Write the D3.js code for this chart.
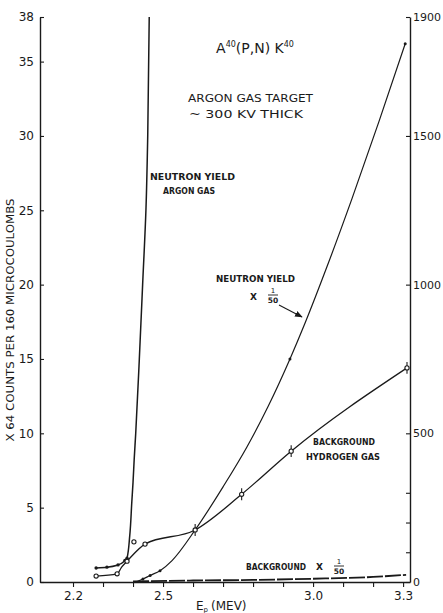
<!DOCTYPE html>
<html>
<head>
<meta charset="utf-8">
<script src="https://cdn.jsdelivr.net/npm/d3@7"></script>
<style>
  body { margin: 0; background: #fff; }
  svg { display: block; }
  text { font-family: "DejaVu Sans", sans-serif; fill: #1a1a1a; }
</style>
</head>
<body>
<div id="chart"></div>
<script>
// proton energy (MeV) vs counts
const argonE = [2.277, 2.313, 2.35, 2.373, 2.38, 2.389, 2.396, 2.40, 2.404, 2.409, 2.421, 2.432, 2.443, 2.449, 2.454];
const argonV = [0.94, 1.0, 1.15, 1.45, 1.6, 3.1, 5.4, 6.7, 8.3, 10, 15, 20, 25, 30, 38];
const argonMarkE = [2.277, 2.313, 2.35, 2.373, 2.38];

const hydE = [2.277, 2.347, 2.362, 2.38, 2.44, 2.607, 2.762, 2.927, 3.313];
const hydV = [0.4, 0.55, 1.0, 1.4, 2.55, 3.5, 5.9, 8.8, 14.4];
const hydExtraE = [2.403];
const hydExtraV = [2.7];
const hydErrE = [2.607, 2.762, 2.927, 3.313];

// right hand scale (x 1/50)
const yieldE = [2.41, 2.433, 2.457, 2.49, 2.53, 2.607, 2.7, 2.78, 2.85, 2.923, 2.973, 3.05, 3.13, 3.22, 3.307];
const yieldV = [0, 10, 22, 38, 72, 175, 320, 455, 590, 750, 870, 1070, 1290, 1550, 1810];
const yieldMarkE = [2.433, 2.457, 2.49, 2.607, 2.923, 3.307];

const bgE = [2.40, 2.6, 2.8, 3.0, 3.2, 3.31];
const bgV = [2, 5, 7, 11, 17, 24];

const xTicks = [2.2, 2.3, 2.4, 2.5, 2.6, 2.7, 2.8, 2.9, 3.0, 3.1, 3.2, 3.3];
const xLabelled = [2.2, 2.5, 3.0, 3.3];
const leftTicks = [0, 5, 10, 15, 20, 25, 30, 35, 38];
const rightTicks = [0, 500, 1000, 1500, 1900];
const rightMinor = [100, 200, 300];

const W = 443, H = 613;
const svg = d3.select('#chart').append('svg')
    .attr('width', W)
    .attr('height', H);

const x = d3.scaleLinear().domain([2.09, 3.323]).range([40, 410]);
const yL = d3.scaleLinear().domain([0, 38]).range([582, 17]);
const yR = d3.scaleLinear().domain([0, 1900]).range([582, 17]);

const ink = '#1a1a1a';

// axes
svg.append('g')
    .attr('transform', 'translate(0,' + yL(0) + ')')
    .call(d3.axisBottom(x).tickValues(xTicks).tickSizeInner(5).tickSizeOuter(0).tickPadding(4)
        .tickFormat(d => xLabelled.some(v => Math.abs(v - d) < 1e-9) ? d.toFixed(1) : ''));

svg.append('g')
    .attr('transform', 'translate(' + x.range()[0] + ',0)')
    .call(d3.axisLeft(yL).tickValues(leftTicks).tickSizeInner(-4).tickSizeOuter(0).tickPadding(6));

svg.append('g')
    .attr('class', 'raxis')
    .attr('transform', 'translate(' + x.range()[1] + ',0)')
    .call(d3.axisRight(yR).tickValues(rightTicks).tickSizeInner(-4).tickSizeOuter(0).tickPadding(3)
        .tickFormat(d3.format('d')));

svg.append('g')
    .attr('transform', 'translate(' + x.range()[1] + ',0)')
    .call(d3.axisRight(yR).tickValues(rightMinor).tickSizeInner(-4).tickSizeOuter(0).tickFormat(''))
    .select('.domain').remove();

svg.selectAll('.domain').attr('stroke', ink).attr('stroke-width', 1.4);
svg.selectAll('.tick line').attr('stroke', ink).attr('stroke-width', 1.1);
svg.selectAll('.tick text')
    .style('font-family', '"DejaVu Sans", sans-serif')
    .style('font-size', '12px')
    .attr('fill', ink);
svg.selectAll('.raxis .tick text').style('font-size', '11px');

// curves
const lineL = d3.line().x(d => x(d[0])).y(d => yL(d[1])).curve(d3.curveMonotoneX);
const lineR = d3.line().x(d => x(d[0])).y(d => yR(d[1])).curve(d3.curveMonotoneX);
const lineSteep = d3.line().x(d => x(d[0])).y(d => yL(d[1])).curve(d3.curveMonotoneY);

svg.append('path').datum(d3.zip(argonE, argonV))
    .attr('d', lineSteep).attr('fill', 'none').attr('stroke', ink).attr('stroke-width', 1.5);

svg.append('path').datum(d3.zip(hydE, hydV))
    .attr('d', lineL).attr('fill', 'none').attr('stroke', ink).attr('stroke-width', 1.3);

svg.append('path').datum(d3.zip(yieldE, yieldV))
    .attr('d', lineR).attr('fill', 'none').attr('stroke', ink).attr('stroke-width', 1.2);

svg.append('path').datum(d3.zip(bgE, bgV))
    .attr('d', lineR).attr('fill', 'none').attr('stroke', ink).attr('stroke-width', 1.8)
    .attr('stroke-dasharray', '16,2');

// markers
svg.selectAll('.argdot').data(d3.zip(argonE, argonV).filter(d => argonMarkE.includes(d[0]))).enter()
    .append('circle').attr('class', 'argdot')
    .attr('cx', d => x(d[0])).attr('cy', d => yL(d[1])).attr('r', 1.7).attr('fill', ink);

svg.selectAll('.ylddot').data(d3.zip(yieldE, yieldV).filter(d => yieldMarkE.includes(d[0]))).enter()
    .append('circle').attr('class', 'ylddot')
    .attr('cx', d => x(d[0])).attr('cy', d => yR(d[1])).attr('r', 1.5).attr('fill', ink);

const hydPts = d3.zip(hydE, hydV).concat(d3.zip(hydExtraE, hydExtraV));
svg.selectAll('.herr').data(hydPts.filter(d => hydErrE.includes(d[0]))).enter()
    .append('line').attr('class', 'herr')
    .attr('x1', d => x(d[0])).attr('x2', d => x(d[0]))
    .attr('y1', d => yL(d[1] - 0.4)).attr('y2', d => yL(d[1] + 0.4))
    .attr('stroke', ink).attr('stroke-width', 1.1);
svg.selectAll('.hdot').data(hydPts.filter(d => d[0] !== 2.362)).enter()
    .append('circle').attr('class', 'hdot')
    .attr('cx', d => x(d[0])).attr('cy', d => yL(d[1])).attr('r', 2.1)
    .attr('fill', '#fff').attr('stroke', ink).attr('stroke-width', 1.1);

// labels
function label(txt, px, py, size, len) {
    const t = svg.append('text').attr('x', px).attr('y', py)
        .style('font-size', size + 'px').text(txt);
    if (len) t.attr('textLength', len).attr('lengthAdjust', 'spacingAndGlyphs');
    return t;
}
function fraction(cx, cy) {
    svg.append('text').attr('x', cx).attr('y', cy - 2).attr('text-anchor', 'middle')
        .style('font-size', '7px').text('1');
    svg.append('line').attr('x1', cx - 5).attr('x2', cx + 5).attr('y1', cy).attr('y2', cy)
        .attr('stroke', ink).attr('stroke-width', 0.9);
    svg.append('text').attr('x', cx).attr('y', cy + 7.5).attr('text-anchor', 'middle')
        .style('font-size', '7.5px').style('font-weight', 'bold').text('50');
}

const title = svg.append('text').attr('x', 255).attr('y', 53).attr('text-anchor', 'middle')
    .style('font-size', '14px');
title.append('tspan').text('A');
title.append('tspan').attr('dy', -6).style('font-size', '8px').text('40');
title.append('tspan').attr('dy', 6).text('(P,N) K');
title.append('tspan').attr('dy', -6).style('font-size', '8px').text('40');

label('ARGON GAS TARGET', 188, 102, 10.5, 125);
label('~ 300 KV THICK', 189, 118, 10.5, 114);

label('NEUTRON YIELD', 150, 180, 9, 85).style('font-weight', 'bold');
label('ARGON GAS', 163, 194, 9, 52).style('font-weight', 'bold');

label('NEUTRON YIELD', 216, 282, 9, 79).style('font-weight', 'bold');
label('X', 250, 300, 9).style('font-weight', 'bold');
fraction(273, 295);

svg.append('defs').append('marker')
    .attr('id', 'arr').attr('viewBox', '0 0 10 10').attr('refX', 9).attr('refY', 5)
    .attr('markerWidth', 7).attr('markerHeight', 7).attr('orient', 'auto')
    .append('path').attr('d', 'M0,1 L10,5 L0,9 Z').attr('fill', ink);
svg.append('line').attr('x1', 279).attr('y1', 305).attr('x2', 302).attr('y2', 317)
    .attr('stroke', ink).attr('stroke-width', 1.1).attr('marker-end', 'url(#arr)');

label('BACKGROUND', 313, 445, 9, 62).style('font-weight', 'bold');
label('HYDROGEN GAS', 306, 460, 9, 74).style('font-weight', 'bold');

label('BACKGROUND', 246, 570, 8, 60).style('font-weight', 'bold');
label('X', 316, 570, 9).style('font-weight', 'bold');
fraction(339, 566);

// axis titles
const xt = svg.append('text').attr('x', 196).attr('y', 610).style('font-size', '12px');
xt.append('tspan').text('E');
xt.append('tspan').attr('dy', 2).style('font-size', '7px').text('p');
xt.append('tspan').attr('dy', -2).attr('dx', 3).text('(MEV)');

svg.append('text')
    .attr('transform', 'translate(14,320) rotate(-90)')
    .attr('text-anchor', 'middle')
    .style('font-size', '10.5px')
    .attr('textLength', 243).attr('lengthAdjust', 'spacingAndGlyphs')
    .text('X 64 COUNTS PER 160 MICROCOULOMBS');
</script>
</body>
</html>
